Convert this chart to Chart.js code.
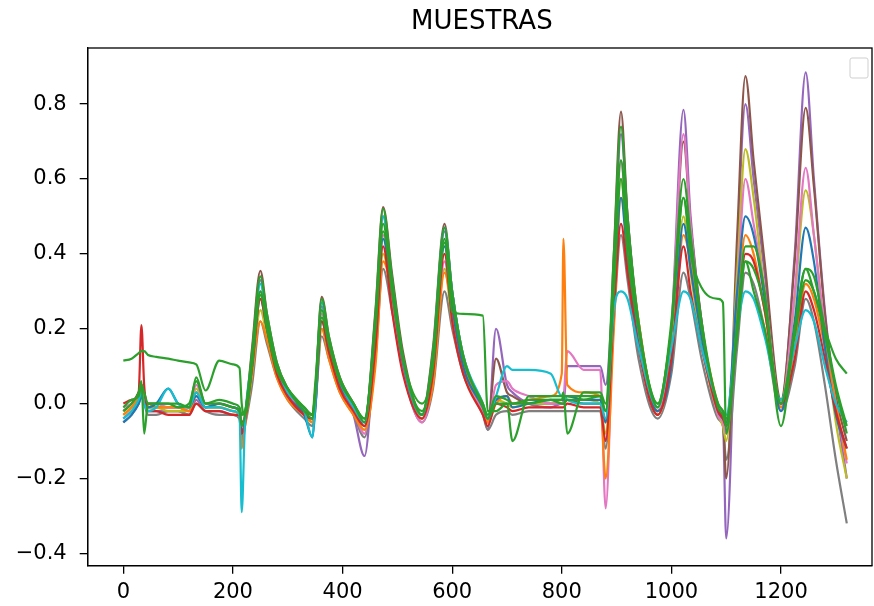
<!DOCTYPE html>
<html>
<head>
<meta charset="utf-8">
<script src="https://cdn.jsdelivr.net/npm/chart.js@4.4.1/dist/chart.umd.min.js"></script>
<style>html,body{margin:0;padding:0;background:#fff}</style>
</head>
<body>
<canvas id="muestras" width="874" height="606"></canvas>
<script>
// índice de muestra (eje x) compartido por todas las series
const muestraX = [0,15,28,33,38,45,60,82,100,120, 133,150,175,200,212,216,222,235,250,262,
  280,300,330,345,350,362,375,395,420,440, 460,474,490,510,545,565,586,600,620,656,
  665,680,700,710,740,780,800,803,810,840, 870,880,895,908,920,940,975,1000,1022,1035,
  1055,1085,1094,1100,1120,1135,1150,1170,1200,1225, 1245,1260,1280,1300,1320];

const serieA = [0.115,0.12,0.135,0.14,0.14,0.13,0.125,0.12,0.115,0.11,
  0.105,0.035,0.115,0.105,0.095,0.0,-0.03,0.1,0.3,0.2,
  0.09,0.04,-0.01,-0.03,0.05,0.25,0.16,0.06,0.0,-0.04,
  0.22,0.48,0.3,0.12,0.0,0.1,0.44,0.245,0.24,0.235,
  -0.02,-0.02,0.0,0.0,0.0,0.01,0.0,0.0,0.01,0.01,
  0.02,-0.02,0.3,0.6,0.4,0.2,0.0,0.2,0.55,0.4,
  0.31,0.28,0.27,-0.08,0.2,0.38,0.3,0.2,0.0,0.2,
  0.36,0.3,0.2,0.12,0.08];
const serieB = [-0.03,-0.01,0.02,0.04,0.0,0.0,-0.01,-0.01,-0.01,-0.02,
  0.02,-0.01,-0.01,-0.02,-0.03,-0.12,-0.06,0.08,0.22,0.17,
  0.07,0.01,-0.03,-0.05,0.0,0.2,0.12,0.03,-0.03,-0.07,
  0.1,0.38,0.3,0.12,-0.03,0.05,0.35,0.25,0.1,0.0,
  -0.05,0.0,0.02,0.0,0.01,0.02,0.08,0.44,0.05,0.03,
  0.02,-0.2,0.2,0.55,0.45,0.22,-0.02,0.1,0.45,0.38,
  0.2,0.0,-0.02,-0.05,0.25,0.45,0.4,0.25,-0.01,0.15,
  0.32,0.28,0.15,0.0,-0.15];
const serieC = [0.0,0.01,0.03,0.21,0.05,-0.02,-0.02,-0.03,-0.03,-0.03,
  0.0,-0.02,-0.02,-0.03,-0.03,-0.08,-0.05,0.1,0.28,0.2,
  0.08,0.02,-0.03,-0.04,0.02,0.22,0.14,0.04,-0.02,-0.06,
  0.15,0.42,0.25,0.08,-0.04,0.08,0.4,0.22,0.08,-0.03,
  -0.06,0.0,-0.01,-0.02,-0.01,-0.01,-0.01,-0.01,0.0,-0.01,
  -0.01,-0.1,0.25,0.48,0.35,0.15,-0.03,0.12,0.42,0.3,
  0.15,-0.02,-0.04,-0.06,0.2,0.4,0.38,0.25,0.0,0.12,
  0.3,0.25,0.12,-0.02,-0.12];
const serieD = [-0.04,-0.02,0.0,0.03,0.02,-0.02,-0.02,-0.02,-0.02,-0.03,
  0.01,-0.02,-0.02,-0.03,-0.04,-0.1,-0.05,0.12,0.33,0.22,
  0.1,0.03,-0.02,-0.05,-0.02,0.26,0.17,0.06,-0.03,-0.14,
  0.2,0.5,0.32,0.12,-0.04,0.12,0.46,0.3,0.12,-0.02,
  -0.07,0.2,0.05,0.03,0.0,-0.01,0.0,0.0,0.1,0.1,
  0.1,0.05,0.35,0.72,0.5,0.2,-0.03,0.2,0.785,0.5,
  0.22,-0.03,-0.05,-0.36,0.4,0.8,0.6,0.35,0.0,0.4,
  0.885,0.6,0.25,0.0,-0.2];
const serieE = [-0.02,0.0,0.03,0.05,0.03,-0.01,-0.01,-0.01,-0.01,-0.02,
  0.03,-0.01,0.0,-0.01,-0.02,-0.05,-0.03,0.15,0.355,0.24,
  0.11,0.04,-0.02,-0.03,0.03,0.285,0.18,0.07,0.0,-0.05,
  0.25,0.525,0.35,0.14,-0.03,0.15,0.48,0.3,0.13,-0.01,
  -0.05,0.12,0.03,0.02,0.0,0.0,0.0,0.0,0.01,0.0,
  0.0,-0.05,0.4,0.78,0.5,0.22,-0.02,0.18,0.7,0.48,
  0.22,-0.02,-0.04,-0.2,0.45,0.875,0.65,0.38,0.01,0.38,
  0.79,0.58,0.24,0.02,-0.1];
const serieF = [-0.01,0.0,0.02,0.04,0.02,0.0,0.0,-0.01,-0.01,-0.01,
  0.05,0.0,0.0,-0.01,-0.02,-0.06,-0.04,0.1,0.3,0.21,
  0.09,0.03,-0.03,-0.04,0.0,0.24,0.15,0.05,-0.02,-0.08,
  0.18,0.45,0.28,0.1,-0.05,0.06,0.38,0.24,0.1,-0.02,
  -0.05,0.05,0.06,0.04,0.02,0.0,0.0,0.01,0.14,0.09,
  0.09,-0.28,0.3,0.65,0.42,0.18,-0.02,0.2,0.72,0.48,
  0.2,-0.03,-0.05,-0.08,0.3,0.6,0.48,0.3,-0.01,0.3,
  0.63,0.45,0.2,0.0,-0.16];
const serieG = [-0.05,-0.03,0.0,0.02,0.0,-0.03,-0.03,-0.02,-0.02,-0.03,
  0.0,-0.02,-0.03,-0.03,-0.04,-0.1,-0.06,0.05,0.22,0.16,
  0.07,0.01,-0.04,-0.06,-0.01,0.18,0.12,0.03,-0.03,-0.09,
  0.12,0.36,0.25,0.09,-0.05,0.04,0.3,0.2,0.08,-0.03,
  -0.07,-0.03,-0.02,-0.03,-0.02,-0.02,-0.02,-0.02,-0.02,-0.02,
  -0.02,-0.12,0.22,0.45,0.33,0.12,-0.04,0.08,0.35,0.28,
  0.12,-0.04,-0.06,-0.15,0.15,0.35,0.32,0.2,-0.02,0.1,
  0.28,0.22,0.05,-0.15,-0.32];
const serieH = [-0.03,-0.01,0.01,0.03,0.01,-0.01,-0.01,-0.02,-0.02,-0.02,
  0.04,-0.01,-0.01,-0.02,-0.03,-0.06,-0.04,0.08,0.25,0.18,
  0.08,0.02,-0.03,-0.05,0.0,0.2,0.13,0.04,-0.02,-0.07,
  0.14,0.4,0.27,0.1,-0.04,0.06,0.36,0.22,0.09,-0.02,
  -0.05,0.01,0.0,-0.01,0.0,0.0,0.01,0.01,0.02,0.01,
  0.0,-0.08,0.3,0.6,0.42,0.18,-0.03,0.12,0.5,0.35,
  0.16,-0.03,-0.06,-0.1,0.35,0.68,0.55,0.3,0.0,0.28,
  0.57,0.45,0.18,-0.05,-0.2];
const serieI = [-0.04,-0.02,0.01,0.03,0.0,-0.02,-0.01,0.04,0.0,-0.01,
  0.03,-0.01,-0.01,-0.02,-0.03,-0.29,-0.05,0.12,0.32,0.23,
  0.1,0.03,-0.02,-0.09,0.0,0.27,0.17,0.06,-0.01,-0.05,
  0.22,0.5,0.33,0.12,-0.03,0.13,0.47,0.3,0.13,0.0,
  -0.04,0.02,0.1,0.09,0.09,0.08,0.02,0.02,0.01,0.0,
  0.0,-0.04,0.25,0.3,0.28,0.15,-0.01,0.15,0.3,0.28,
  0.15,0.0,-0.02,-0.03,0.2,0.3,0.28,0.18,0.01,0.15,
  0.25,0.22,0.1,0.0,-0.05];
const serieJ = [-0.05,-0.03,0.0,0.02,0.0,-0.01,0.0,0.04,0.0,-0.01,
  0.02,-0.01,0.0,-0.01,-0.02,-0.08,-0.04,0.1,0.28,0.2,
  0.09,0.02,-0.03,-0.09,-0.02,0.22,0.14,0.05,-0.01,-0.06,
  0.18,0.44,0.3,0.11,-0.03,0.09,0.42,0.26,0.1,-0.01,
  -0.04,0.01,0.02,-0.01,0.0,0.01,0.01,0.01,0.02,0.01,
  0.01,-0.05,0.28,0.55,0.38,0.16,-0.02,0.1,0.48,0.36,
  0.18,-0.02,-0.04,-0.05,0.3,0.5,0.45,0.28,-0.02,0.22,
  0.47,0.38,0.15,-0.03,-0.12];
const serieK = [-0.02,0.0,0.03,0.06,-0.08,0.0,0.0,0.0,-0.01,0.0,
  0.06,0.0,0.0,-0.01,-0.02,-0.06,-0.03,0.14,0.34,0.24,
  0.11,0.04,-0.02,-0.04,0.02,0.28,0.18,0.07,0.0,-0.05,
  0.24,0.52,0.34,0.13,-0.03,0.14,0.47,0.3,0.13,-0.01,
  -0.04,0.0,0.0,-0.1,0.02,0.02,0.02,0.03,-0.08,0.03,
  0.03,0.0,0.4,0.74,0.5,0.22,-0.01,0.22,0.6,0.45,
  0.22,-0.01,-0.03,-0.06,0.22,0.42,0.42,0.3,-0.06,0.2,
  0.36,0.34,0.2,0.05,-0.06];
const serieL = [-0.01,0.01,0.02,0.05,0.03,0.0,0.0,0.0,0.0,-0.01,
  0.07,0.0,0.01,0.0,-0.01,-0.03,-0.02,0.12,0.29,0.22,
  0.1,0.04,-0.01,-0.03,0.03,0.23,0.16,0.06,0.0,-0.04,
  0.2,0.46,0.32,0.12,-0.02,0.11,0.43,0.28,0.12,0.0,
  -0.03,0.02,0.01,0.0,0.01,0.01,0.01,0.02,0.02,0.02,
  0.02,-0.02,0.35,0.65,0.45,0.2,0.0,0.2,0.55,0.42,
  0.2,0.0,-0.02,-0.04,0.18,0.38,0.36,0.26,0.0,0.18,
  0.33,0.3,0.18,0.04,-0.08];

// orden de dibujo: la primera queda encima
const series = [serieK, serieA, serieL, serieI, serieC, serieJ, serieB, serieF, serieH, serieE, serieG, serieD];
const colores = ['#2ca02c', '#2ca02c', '#2ca02c', '#17becf', '#d62728', '#1f77b4', '#ff7f0e', '#e377c2', '#bcbd22', '#8c564b', '#7f7f7f', '#9467bd'];

const xTicks = [0, 200, 400, 600, 800, 1000, 1200];
const yTicks = [-0.4, -0.2, 0.0, 0.2, 0.4, 0.6, 0.8];

const fuente = { family: '"DejaVu Sans", sans-serif', size: 21 };

// marco completo, título y caja de leyenda vacía como en matplotlib
const marcoPlugin = {
    id: 'marco',
    afterDraw(chart) {
        const { ctx, chartArea: a } = chart;
        ctx.save();
        ctx.strokeStyle = '#000';
        ctx.lineWidth = 1.3;
        ctx.strokeRect(a.left, a.top, a.right - a.left, a.bottom - a.top);

        ctx.fillStyle = '#000';
        ctx.font = '26px "DejaVu Sans", sans-serif';
        ctx.textAlign = 'center';
        ctx.textBaseline = 'middle';
        ctx.fillText('MUESTRAS', (a.left + a.right) / 2 + 2, 22);

        ctx.strokeStyle = '#cfcfcf';
        ctx.lineWidth = 1;
        ctx.beginPath();
        ctx.roundRect(a.right - 22, a.top + 10, 18, 20, 2);
        ctx.stroke();
        ctx.restore();
    }
};

const ctx = document.getElementById('muestras').getContext('2d');
new Chart(ctx, {
    type: 'line',
    data: {
        datasets: series.map((serie, i) => ({
            data: serie.map((y, j) => ({ x: muestraX[j], y: y })),
            borderColor: colores[i],
            borderWidth: 2.2,
            pointRadius: 0,
            cubicInterpolationMode: 'monotone',
            fill: false
        }))
    },
    options: {
        responsive: false,
        animation: false,
        layout: { padding: { top: 48, right: 2, left: 0, bottom: 0 } },
        plugins: {
            legend: { display: false },
            tooltip: { enabled: false }
        },
        scales: {
            x: {
                type: 'linear',
                min: -65,
                max: 1366,
                afterBuildTicks: (scale) => { scale.ticks = xTicks.map(v => ({ value: v })); },
                afterFit: (scale) => { scale.height = 40.3; },
                ticks: {
                    font: fuente,
                    color: '#000',
                    padding: 6,
                    maxRotation: 0,
                    autoSkip: false,
                    callback: (v) => String(v)
                },
                grid: { drawOnChartArea: false, tickLength: 8, color: '#000', lineWidth: 1.3 },
                border: { color: '#000', width: 1.3 }
            },
            y: {
                min: -0.433,
                max: 0.95,
                afterBuildTicks: (scale) => { scale.ticks = yTicks.map(v => ({ value: v })); },
                afterFit: (scale) => { scale.width = 87.7; },
                ticks: {
                    font: fuente,
                    color: '#000',
                    padding: 13,
                    autoSkip: false,
                    callback: (v) => {
                        const t = Math.abs(v) < 1e-9 ? '0.0' : v.toFixed(1);
                        return t.replace('-', '\u2212');
                    }
                },
                grid: { drawOnChartArea: false, tickLength: 8, color: '#000', lineWidth: 1.3 },
                border: { color: '#000', width: 1.3 }
            }
        }
    },
    plugins: [marcoPlugin]
});
</script>
</body>
</html>
